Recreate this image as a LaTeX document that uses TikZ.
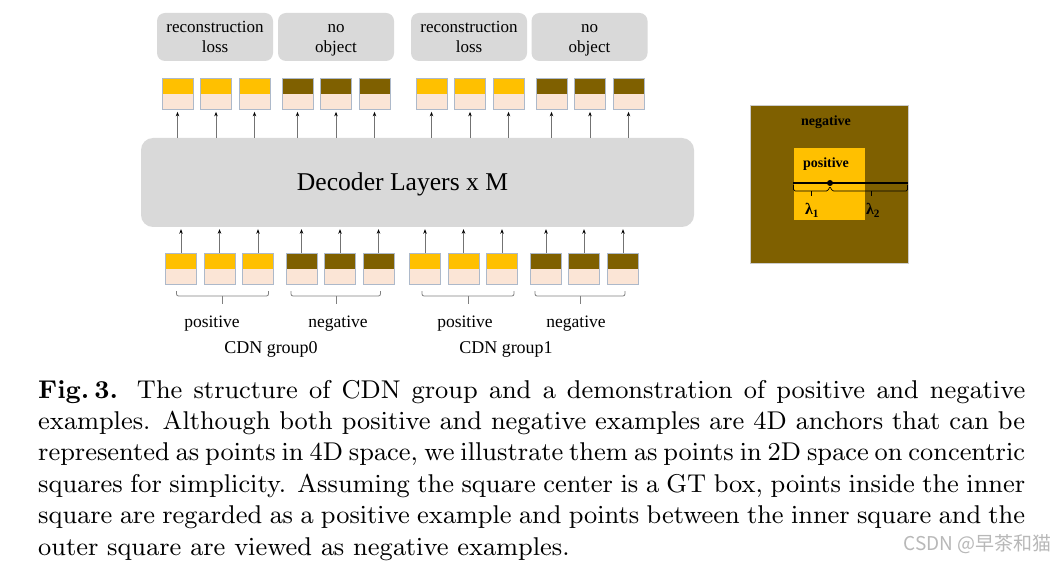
\documentclass[tikz,border=0pt]{standalone}
\usepackage{fontspec}
\setmainfont{Liberation Serif}
\newfontfamily\cjkfont{Noto Sans CJK SC}
\usetikzlibrary{arrows.meta,calc}
\font\capfont=cmr9 at 25.7pt
\font\capbf=cmbx9 at 25.7pt
\definecolor{cgold}{HTML}{FFC000}
\definecolor{colive}{HTML}{7F6000}
\definecolor{cpeach}{HTML}{FBE5D6}
\definecolor{cborder}{HTML}{ADB9CA}
\definecolor{cgray}{HTML}{D9D9D9}
\tikzset{
  tokbox/.style={draw=cborder, line width=0.7pt, fill=cpeach, minimum width=31pt,
    minimum height=31pt, inner sep=0pt,
    path picture={\fill[#1] (path picture bounding box.north west) rectangle (path picture bounding box.east);}},
  lblbox/.style={fill=cgray, rounded corners=8pt, minimum width=116pt, minimum height=48pt,
    inner sep=0pt, align=center, font=\fontsize{17}{20}\selectfont},
  arr/.style={draw=black!55, line width=0.8pt, -{Stealth[length=4.5pt,width=3.5pt,black]}},
  brk/.style={draw=black!50, line width=0.8pt, rounded corners=2pt},
  lbl/.style={font=\fontsize{17.5}{20}\selectfont, anchor=base, inner sep=0pt},
  sqtxt/.style={font=\bfseries\fontsize{14}{14}\selectfont, anchor=base, inner sep=0pt},
}
\begin{document}
\begin{tikzpicture}[x=1pt,y=-1pt]
\fill[white] (0,0) rectangle (1057,561);
\useasboundingbox (0,0) rectangle (1057,561);

% top label boxes
\node[lblbox] (lb1) at (215,37) {\vphantom{l}reconstruction\\\smash{loss}};
\node[lblbox] (lb2) at (336,37) {\vphantom{l}no\\\smash{object}};
\node[lblbox] (lb3) at (469,37) {\vphantom{l}reconstruction\\\smash{loss}};
\node[lblbox] (lb4) at (589.5,37) {\vphantom{l}no\\\smash{object}};

% decoder
\node[fill=cgray, rounded corners=12pt, minimum width=553pt, minimum height=89pt, inner sep=0pt] (dec) at (417.5,182.5) {};
\node[font=\fontsize{25.6}{28}\selectfont, anchor=base, inner sep=0pt] (dectext) at (402.5,191) {Decoder Layers x M};

% top tokens
\foreach \x/\c [count=\i] in {177.5/cgold,216/cgold,254.5/cgold,297.5/colive,336/colive,374.5/colive,
  431.5/cgold,470/cgold,508.5/cgold,551.5/colive,590/colive,628.5/colive}{
  \node[tokbox=\c] (ta\i) at (\x,94) {};
  \draw[arr] (dec.north -| ta\i.south) -- ($(ta\i.south)+(0,2)$);
}
% bottom tokens
\foreach \x/\c [count=\i] in {181/cgold,219.5/cgold,258/cgold,301.5/colive,340/colive,378.5/colive,
  425/cgold,463.5/cgold,502/cgold,546/colive,584/colive,623/colive}{
  \node[tokbox=\c] (tb\i) at (\x,269) {};
  \draw[arr] (tb\i.north) -- ($(dec.south -| tb\i.north)+(0,2)$);
}

% brackets
\foreach \a/\b/\m in {176.5/268.5/222.5, 291/380.5/336, 422/514/468, 535/625/580}{
  \draw[brk] (\a,291) -- (\a,296) -- (\b,296) -- (\b,291);
  \draw[brk] (\m,296) -- (\m,304);
}
\node[lbl] (p0) at (212,327) {positive};
\node[lbl] (n0) at (338,327) {negative};
\node[lbl] (p1) at (465,327) {positive};
\node[lbl] (n1) at (576,327) {negative};
\node[lbl, font=\fontsize{18}{20}\selectfont] (g0) at (271,353) {CDN group0};
\node[lbl, font=\fontsize{18}{20}\selectfont] (g1) at (506,353) {CDN group1};

% square demonstration
\node[fill=colive, draw=black!20, line width=0.6pt, minimum size=158pt, inner sep=0pt] (outer) at (829,184) {};
\node[fill=cgold, minimum width=71pt, minimum height=72pt, inner sep=0pt] (inner) at (829.5,184) {};
\node[sqtxt] (neg) at (826,126) {negative};
\node[sqtxt] (pos) at (826,168) {positive};
\draw[line width=2pt] (793,183) -- (908,183);
\fill (830,183) circle (3pt);
\draw[line width=0.7pt, rounded corners=1.5pt] (793.5,185) -- (793.5,191) -- (828,191) -- (830,186) -- (832,191) -- (907.5,191) -- (907.5,185);
\draw[line width=0.7pt] (811,191) -- (811,196);
\draw[line width=0.7pt] (871,191) -- (871,196);
\node[sqtxt, font=\bfseries\fontsize{16}{16}\selectfont] (l1) at (812,215) {λ\textsubscript{1}};
\node[sqtxt, font=\bfseries\fontsize{16}{16}\selectfont] (l2) at (873,215) {λ\textsubscript{2}};

% caption
\node[anchor=north west, inner sep=0pt, text width=988pt, align=justify] (cap) at (38,380)
{\noindent\capfont\baselineskip=31.4pt\relax {\capbf Fig.\,3.} The structure of CDN group and a demonstration of positive and negative\linebreak
examples. Although both positive and negative examples are 4D anchors that can be\linebreak
represented as points in 4D space, we illustrate them as points in 2D space on concentric\linebreak
squares for simplicity. Assuming the square center is a GT box, points inside the inner\linebreak
square are regarded as a positive example and points between the inner square and the\linebreak
outer square are viewed as negative examples.\par};

% watermark
\node[font=\cjkfont\fontsize{19}{19}\selectfont, text=black!28, anchor=base east, inner sep=0pt] (wm) at (1052,550) {CSDN @早茶和猫};
\end{tikzpicture}
\end{document}
